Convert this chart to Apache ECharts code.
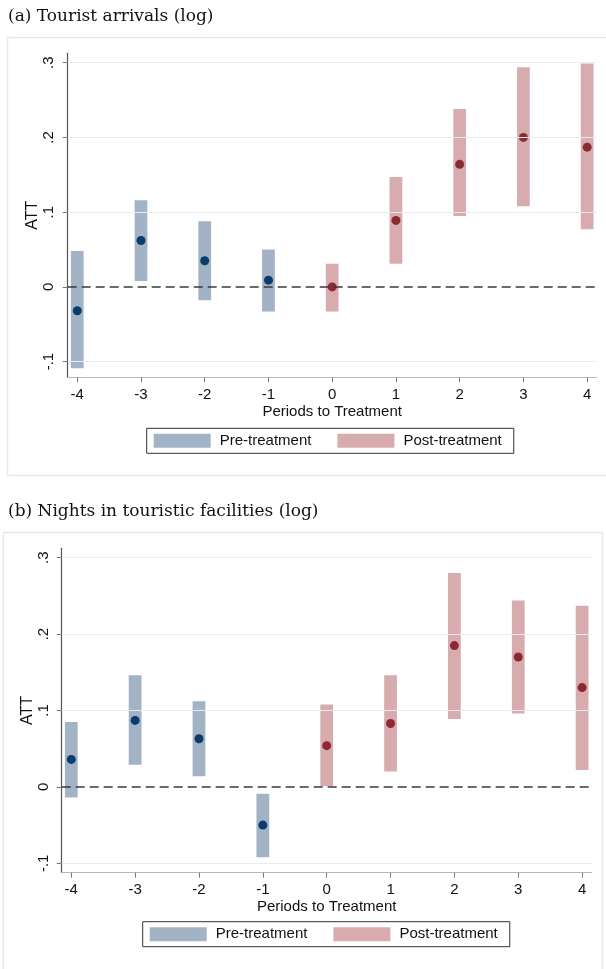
<!DOCTYPE html>
<html>
<head>
<meta charset="utf-8">
<title>Event study: tourist arrivals and nights</title>
<script src="https://cdn.jsdelivr.net/npm/echarts@6/dist/echarts.min.js"></script>
<style>
  html, body { margin: 0; padding: 0; background: #fff; }
  #main { width: 606px; height: 969px; }
</style>
</head>
<body>
<div id="main"></div>
<script>
// periods relative to treatment, and axis ticks
const periods = [-4, -3, -2, -1, 0, 1, 2, 3, 4];
const xTicks = [-4, -3, -2, -1, 0, 1, 2, 3, 4];
const yTicks = [-0.1, 0, 0.1, 0.2, 0.3];

// (a) tourist arrivals: point estimate, lower and upper CI
const attA = [-0.032, 0.062, 0.035, 0.009, 0.000, 0.089, 0.164, 0.200, 0.187];
const loA  = [-0.109, 0.008, -0.018, -0.033, -0.033, 0.031, 0.095, 0.108, 0.077];
const hiA  = [0.048, 0.116, 0.088, 0.050, 0.031, 0.147, 0.238, 0.294, 0.299];

// (b) nights in touristic facilities
const attB = [0.036, 0.087, 0.063, -0.050, 0.054, 0.083, 0.185, 0.170, 0.130];
const loB  = [-0.014, 0.029, 0.014, -0.092, 0.001, 0.020, 0.089, 0.096, 0.022];
const hiB  = [0.085, 0.146, 0.112, -0.009, 0.108, 0.146, 0.280, 0.244, 0.237];

const PRE = 'Pre-treatment';
const POST = 'Post-treatment';
const PRE_BAR = '#a2b3c6';
const POST_BAR = '#d8abaf';
const PRE_DOT = '#0a3c6c';
const POST_DOT = '#8b2a32';
const SANS = 'Liberation Sans, Arial, sans-serif';
const BAR_UNITS = 0.2;

function pick(att, lo, hi, pre) {
  const ci = [], pts = [];
  periods.forEach((p, i) => {
    if ((p < 0) !== pre) return;
    ci.push([p, lo[i], hi[i]]);
    pts.push([p, att[i]]);
  });
  return { ci, pts };
}

function ciSeries(name, idx, data, color) {
  return {
    name, type: 'custom', xAxisIndex: idx, yAxisIndex: idx, z: 2,
    itemStyle: { color },
    encode: { x: 0, y: [1, 2] },
    data,
    renderItem: (params, api) => {
      const top = api.coord([api.value(0), api.value(2)]);
      const bot = api.coord([api.value(0), api.value(1)]);
      const w = api.size([BAR_UNITS, 0])[0];
      return {
        type: 'rect',
        shape: { x: top[0] - w / 2, y: top[1], width: w, height: bot[1] - top[1] },
        style: { fill: color }
      };
    }
  };
}

function dotSeries(name, idx, data, color) {
  return {
    name, type: 'scatter', xAxisIndex: idx, yAxisIndex: idx, z: 4,
    symbolSize: 9, itemStyle: { color, opacity: 1 }, data, silent: true
  };
}

function refLines(idx) {
  return [
    {
      type: 'scatter', xAxisIndex: idx, yAxisIndex: idx, z: 1, data: [], silent: true,
      markLine: {
        silent: true, symbol: 'none', label: { show: false },
        lineStyle: { color: '#e3ecf2', width: 1.2, type: 'solid' },
        data: yTicks.filter(v => v !== 0).map(v => ({ yAxis: v }))
      }
    },
    {
      type: 'scatter', xAxisIndex: idx, yAxisIndex: idx, z: 3, data: [], silent: true,
      markLine: {
        silent: true, symbol: 'none', label: { show: false },
        lineStyle: { color: '#3a3a3a', width: 1.5, type: [9, 5] },
        data: [{ yAxis: 0 }]
      }
    }
  ];
}

function xAxisCfg(idx) {
  return {
    type: 'value', gridIndex: idx, min: -4.15, max: 4.15,
    axisLine: { show: true, onZero: false, lineStyle: { color: '#b8b8b8', width: 1.2 } },
    axisTick: { show: true, customValues: xTicks, length: 5, lineStyle: { color: '#777' } },
    axisLabel: { customValues: xTicks, margin: 10, fontSize: 15, color: '#111', fontFamily: SANS },
    splitLine: { show: false },
    name: 'Periods to Treatment', nameLocation: 'middle', nameGap: 27, nameMoveOverlap: false,
    nameTextStyle: { fontSize: 15, color: '#111', fontFamily: SANS }
  };
}

function yAxisCfg(idx, min, max, margin, nameGap) {
  return {
    type: 'value', gridIndex: idx, min, max,
    axisLine: { show: true, onZero: false, lineStyle: { color: '#555', width: 1.2 } },
    axisTick: { show: true, customValues: yTicks, length: 5, lineStyle: { color: '#777' } },
    axisLabel: {
      customValues: yTicks, rotate: 90, margin, fontSize: 15, color: '#111', fontFamily: SANS,
      formatter: v => (Math.abs(v) < 1e-9 ? '0' : v.toFixed(1).replace(/^(-?)0\./, '$1.'))
    },
    splitLine: { show: false },
    name: 'ATT', nameLocation: 'middle', nameRotate: 90, nameGap, nameMoveOverlap: false,
    nameTextStyle: { fontSize: 16, color: '#111', fontFamily: SANS }
  };
}

function legendCfg(left, top) {
  return {
    left, top, orient: 'horizontal', selectedMode: false,
    icon: 'rect', itemWidth: 57, itemHeight: 14, itemGap: 26,
    padding: [5, 12, 5, 7], borderColor: '#333', borderWidth: 1, backgroundColor: '#fff',
    textStyle: { fontSize: 15, color: '#111', fontFamily: SANS, padding: [0, 0, 0, 4] },
    data: [
      { name: PRE, itemStyle: { color: PRE_BAR } },
      { name: POST, itemStyle: { color: POST_BAR } }
    ]
  };
}

const aPre = pick(attA, loA, hiA, true), aPost = pick(attA, loA, hiA, false);
const bPre = pick(attB, loB, hiB, true), bPost = pick(attB, loB, hiB, false);

const chart = echarts.init(document.getElementById('main'));
chart.setOption({
  animation: false,
  backgroundColor: '#fff',
  graphic: [
    { type: 'rect', z: -1, shape: { x: 7.5, y: 37.5, width: 610, height: 438 },
      style: { fill: '#fff', stroke: '#e2eaf0', lineWidth: 1.5 } },
    { type: 'rect', z: -1, shape: { x: 3.5, y: 532.5, width: 599, height: 450 },
      style: { fill: '#fff', stroke: '#e2eaf0', lineWidth: 1.5 } },
    { type: 'text', left: 8, top: 8,
      style: { text: '(a) Tourist arrivals (log)', font: '17px "DejaVu Serif", serif', fill: '#111' } },
    { type: 'text', left: 8, top: 503,
      style: { text: '(b) Nights in touristic facilities (log)', font: '17px "DejaVu Serif", serif', fill: '#111' } }
  ],
  grid: [
    { left: 67.7, right: 9.3, top: 53.3, bottom: 591.7 },
    { left: 61.7, right: 14.3, top: 548.3, bottom: 96.3 }
  ],
  xAxis: [xAxisCfg(0), xAxisCfg(1)],
  yAxis: [yAxisCfg(0, -0.121, 0.3126, 11, 27), yAxisCfg(1, -0.1123, 0.3123, 10, 26)],
  legend: [legendCfg(146.7, 428.3), legendCfg(142.7, 921.7)],
  series: [
    ...refLines(0),
    ciSeries(PRE, 0, aPre.ci, PRE_BAR),
    ciSeries(POST, 0, aPost.ci, POST_BAR),
    dotSeries('pre-a', 0, aPre.pts, PRE_DOT),
    dotSeries('post-a', 0, aPost.pts, POST_DOT),
    ...refLines(1),
    ciSeries(PRE, 1, bPre.ci, PRE_BAR),
    ciSeries(POST, 1, bPost.ci, POST_BAR),
    dotSeries('pre-b', 1, bPre.pts, PRE_DOT),
    dotSeries('post-b', 1, bPost.pts, POST_DOT)
  ]
});
</script>
</body>
</html>
